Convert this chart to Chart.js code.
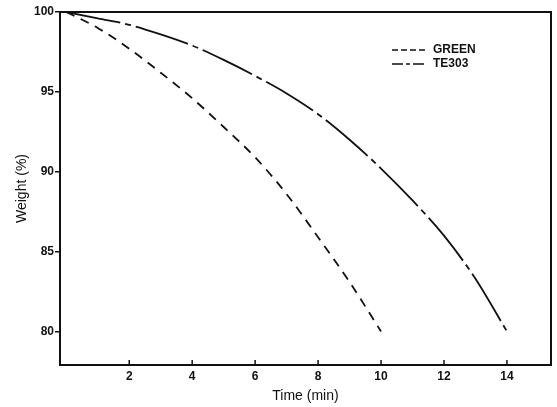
<!DOCTYPE html>
<html>
<head>
<meta charset="utf-8">
<script src="https://cdn.jsdelivr.net/npm/chart.js@4.4.0/dist/chart.umd.min.js"></script>
<style>
  html, body { margin: 0; padding: 0; background: #fff; }
  #wrap { width: 557px; height: 407px; }
</style>
</head>
<body>
<div id="wrap"><canvas id="chart"></canvas></div>
<script>
// weight loss curves (time in min, weight in %)
const greenTime = [0, 1, 2, 3, 4, 5, 6, 7, 8, 9, 10];
const greenWeight = [100, 99.0, 97.7, 96.2, 94.6, 92.8, 90.9, 88.6, 85.9, 83.1, 80.0];

const te303Time = [0, 1, 2, 3, 4, 5, 6, 7, 8, 9, 10, 11, 12, 13, 14];
const te303Weight = [100, 99.6, 99.2, 98.6, 97.9, 97.0, 96.0, 94.9, 93.6, 92.0, 90.2, 88.2, 86.0, 83.3, 80.0];

const xTicks = [2, 4, 6, 8, 10, 12, 14];
const yTicks = [80, 85, 90, 95, 100];

const FONT = "'Liberation Sans', Arial, sans-serif";
const INK = "#111";

const GREEN_DASH = [9, 7];
const TE303_DASH = [55, 5, 6, 5];

const toPoints = (xs, ys) => xs.map((x, i) => ({x, y: ys[i]}));

// frame, inward x ticks and the inset legend
const framePlugin = {
    id: "frame",
    afterDraw(chart) {
        const {ctx, chartArea: {top, bottom, left, right}, scales: {x}} = chart;
        ctx.save();
        ctx.strokeStyle = INK;
        ctx.lineWidth = 2;
        ctx.strokeRect(left, top, right - left, bottom - top);

        ctx.lineWidth = 1.5;
        xTicks.forEach((v) => {
            const px = x.getPixelForValue(v);
            ctx.beginPath();
            ctx.moveTo(px, bottom);
            ctx.lineTo(px, bottom - 5);
            ctx.stroke();
        });

        // legend
        const entries = [
            {label: "GREEN", dash: [6, 3], dy: 38},
            {label: "TE303", dash: [11, 3, 4, 3], dy: 52},
        ];
        ctx.font = "bold 12px " + FONT;
        ctx.textBaseline = "middle";
        ctx.fillStyle = INK;
        entries.forEach((e) => {
            const y = top + e.dy;
            ctx.setLineDash(e.dash);
            ctx.lineWidth = 1.6;
            ctx.beginPath();
            ctx.moveTo(left + 332, y);
            ctx.lineTo(left + 366, y);
            ctx.stroke();
            ctx.setLineDash([]);
            ctx.fillText(e.label, left + 373, y);
        });
        ctx.restore();
    },
};

new Chart(document.getElementById("chart"), {
    type: "line",
    data: {
        datasets: [
            {
                label: "GREEN",
                data: toPoints(greenTime, greenWeight),
                borderColor: INK,
                borderWidth: 1.8,
                borderDash: GREEN_DASH,
                pointRadius: 0,
                cubicInterpolationMode: "monotone",
                fill: false,
            },
            {
                label: "TE303",
                data: toPoints(te303Time, te303Weight),
                borderColor: INK,
                borderWidth: 1.8,
                borderDash: TE303_DASH,
                pointRadius: 0,
                cubicInterpolationMode: "monotone",
                fill: false,
            },
        ],
    },
    options: {
        responsive: true,
        maintainAspectRatio: false,
        animation: false,
        layout: {padding: {top: 12, right: 6, left: 0, bottom: 0}},
        plugins: {
            legend: {display: false},
            tooltip: {enabled: false},
        },
        scales: {
            x: {
                type: "linear",
                min: -0.2,
                max: 15.4,
                afterBuildTicks(scale) {
                    scale.ticks = xTicks.map((v) => ({value: v}));
                },
                afterFit(scale) {
                    scale.height = 42;
                },
                grid: {display: false, drawTicks: false},
                border: {display: false},
                ticks: {
                    color: INK,
                    padding: 4,
                    font: {family: FONT, size: 12, weight: "bold"},
                },
                title: {
                    display: true,
                    text: "Time (min)",
                    color: INK,
                    padding: {top: 0, bottom: 2},
                    font: {family: FONT, size: 14},
                },
            },
            y: {
                type: "linear",
                min: 77.9,
                max: 100,
                afterBuildTicks(scale) {
                    scale.ticks = yTicks.map((v) => ({value: v}));
                },
                afterFit(scale) {
                    scale.width = 60;
                },
                grid: {
                    display: true,
                    drawOnChartArea: false,
                    drawTicks: true,
                    tickLength: 5,
                    color: INK,
                    lineWidth: 1.5,
                },
                border: {display: false},
                ticks: {
                    color: INK,
                    padding: 1,
                    font: {family: FONT, size: 12, weight: "bold"},
                },
                title: {
                    display: true,
                    text: "Weight (%)",
                    color: INK,
                    padding: {top: 14, bottom: 4},
                    font: {family: FONT, size: 14},
                },
            },
        },
    },
    plugins: [framePlugin],
});
</script>
</body>
</html>
